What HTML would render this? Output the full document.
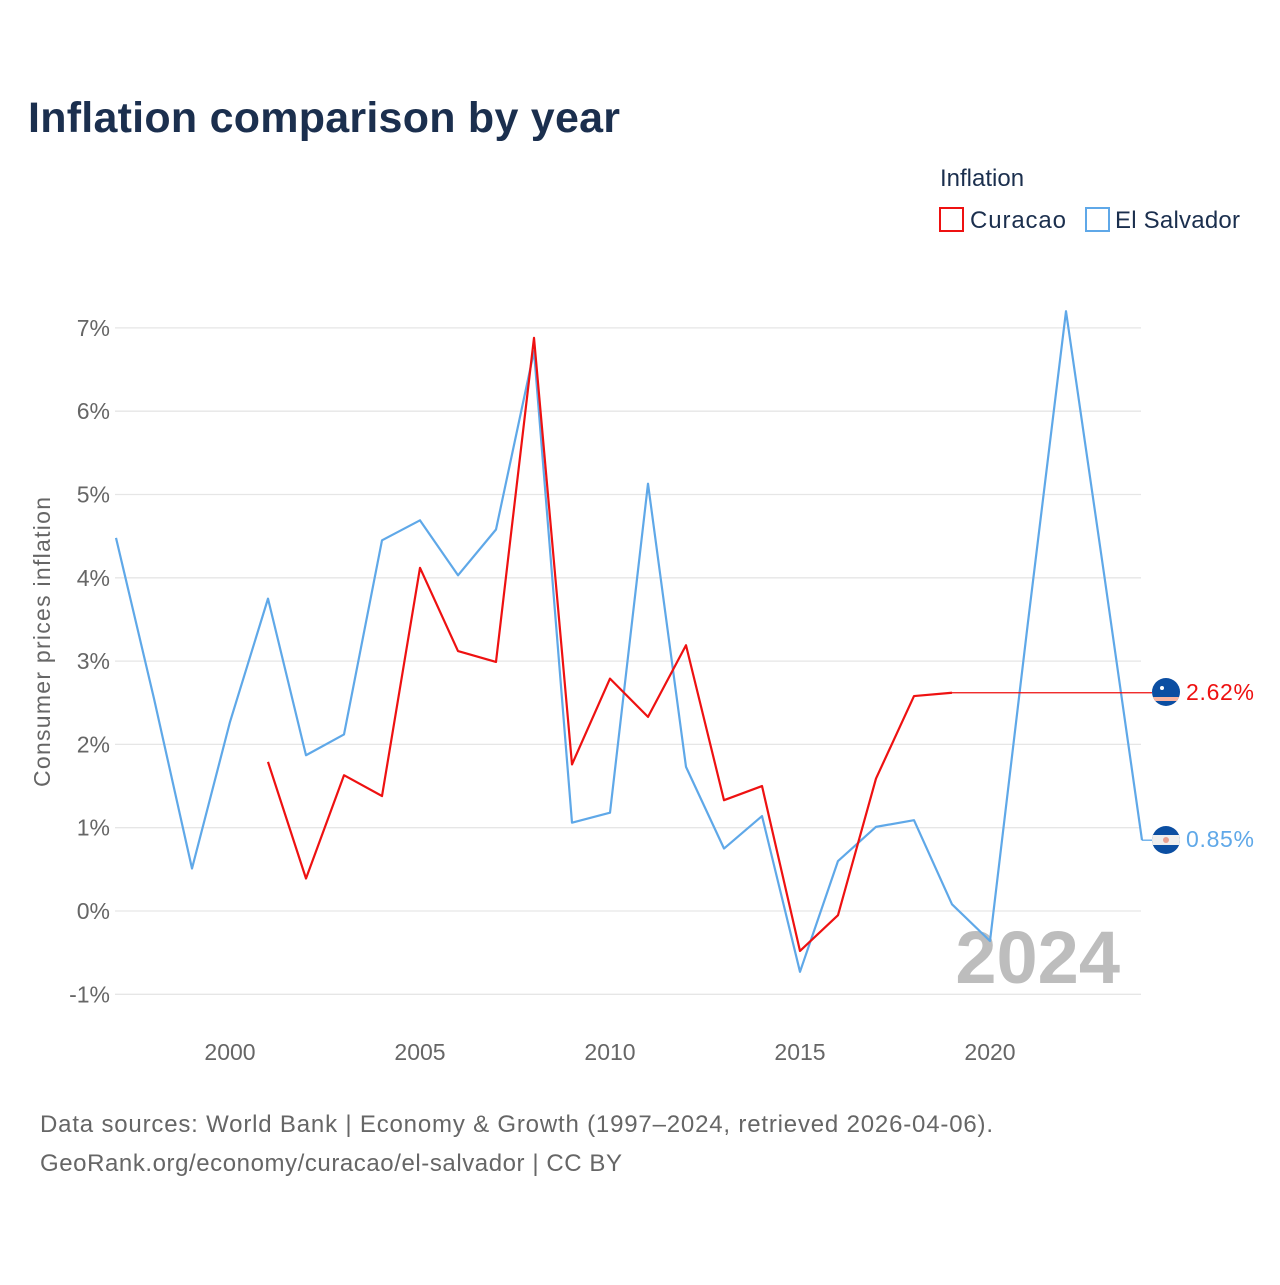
<!DOCTYPE html>
<html><head><meta charset="utf-8"><style>
body{margin:0;background:#fff;}
svg text{font-family:"Liberation Sans",sans-serif;}
</style></head><body>
<svg width="1280" height="1280" viewBox="0 0 1280 1280" xmlns="http://www.w3.org/2000/svg">
<text x="28" y="132" font-size="43" font-weight="bold" fill="#1b2f4e" textLength="592">Inflation comparison by year</text>
<text x="940" y="186" font-size="24" fill="#1b2f4e">Inflation</text>
<g><rect x="940" y="208" width="23" height="23" fill="none" stroke="#ee1111" stroke-width="2"/><text x="970" y="228" font-size="24" fill="#1b2f4e" textLength="96">Curacao</text></g>
<g><rect x="1086" y="208" width="23" height="23" fill="none" stroke="#5fa8e8" stroke-width="2"/><text x="1115" y="228" font-size="24" fill="#1b2f4e" textLength="125">El Salvador</text></g>
<text transform="translate(50,642) rotate(-90)" text-anchor="middle" font-size="23" fill="#666" textLength="290">Consumer prices inflation</text>
<g id="grid"></g>
<g id="yticks"></g>
<g id="xticks"></g>
<text x="1120" y="983" text-anchor="end" font-size="74" font-weight="bold" fill="#bdbdbd">2024</text>
<g id="series"></g>
<g><clipPath id="c1"><circle cx="1166" cy="692" r="14"/></clipPath><g clip-path="url(#c1)"><rect x="1150" y="676" width="32" height="32" fill="#0b4ea2"/><rect x="1150" y="697" width="32" height="4" fill="#f9b4a0"/><circle cx="1162" cy="688" r="2" fill="#fff"/></g></g>
<g><clipPath id="c2"><circle cx="1166" cy="840" r="14"/></clipPath><g clip-path="url(#c2)"><rect x="1150" y="824" width="32" height="32" fill="#0b4ea2"/><rect x="1150" y="835" width="32" height="10" fill="#eee"/><circle cx="1166" cy="840" r="3" fill="#e8a090"/></g></g>
<text x="1186" y="700" font-size="23" fill="#ee1111" textLength="68">2.62%</text>
<text x="1186" y="847" font-size="23" fill="#5fa8e8" textLength="68">0.85%</text>
<text x="40" y="1132" font-size="24" fill="#666" textLength="953">Data sources: World Bank | Economy &amp; Growth (1997–2024, retrieved 2026-04-06).</text>
<text x="40" y="1171" font-size="24" fill="#666" textLength="582">GeoRank.org/economy/curacao/el-salvador | CC BY</text>
</svg>
<script>
const yTicks=[-1,0,1,2,3,4,5,6,7];
const xTicks=[2000,2005,2010,2015,2020];
const elsYears=[1997,1998,1999,2000,2001,2002,2003,2004,2005,2006,2007,2008,2009,2010,2011,2012,2013,2014,2015,2016,2017,2018,2019,2020,2021,2022,2023,2024];
const elsValues=[4.48,2.55,0.51,2.27,3.75,1.87,2.12,4.45,4.69,4.03,4.58,6.72,1.06,1.18,5.13,1.73,0.75,1.14,-0.73,0.60,1.01,1.09,0.08,-0.36,3.47,7.20,4.05,0.85];
const curYears=[2001,2002,2003,2004,2005,2006,2007,2008,2009,2010,2011,2012,2013,2014,2015,2016,2017,2018,2019];
const curValues=[1.79,0.39,1.63,1.38,4.12,3.12,2.99,6.88,1.76,2.79,2.33,3.19,1.33,1.50,-0.48,-0.05,1.59,2.58,2.62];
const X=y=>230+(y-2000)*38, Y=v=>911-v*83.3;
const NS="http://www.w3.org/2000/svg";
const mk=(t,a,p)=>{const e=document.createElementNS(NS,t);for(const k in a)e.setAttribute(k,a[k]);p.appendChild(e);return e;};
const grid=document.getElementById('grid'),yt=document.getElementById('yticks'),xt=document.getElementById('xticks'),ser=document.getElementById('series');
yTicks.forEach(v=>{
 const l=mk('line',{x1:115,x2:1141,y1:Y(v),y2:Y(v),stroke:'#e6e6e6','stroke-width':1.3},grid);
 
 
 const t=mk('text',{x:110,y:Y(v)+8,'text-anchor':'end','font-size':23,fill:'#666'},yt);
 t.textContent=v+'%';
 
 
});
xTicks.forEach(v=>{
 const t=mk('text',{x:X(v),y:1060,'text-anchor':'middle','font-size':23,fill:'#666'},xt);
 t.textContent=v;
 
 
});
function line(ys,vs,col,name){
 const d=ys.map((y,i)=>(i?'L':'M')+X(y)+','+Y(vs[i])).join(' ');
 const p=mk('path',{d:d,fill:'none',stroke:col,'stroke-width':2.2,'stroke-linejoin':'round'},ser);
 
 
}
line(elsYears,elsValues,'#5fa8e8','el-salvador-line');
line(curYears,curValues,'#ee1111','curacao-line');
const cl=curValues[curValues.length-1], el=elsValues[elsValues.length-1];
const h1=mk('line',{x1:X(curYears[curYears.length-1]),x2:1152,y1:Y(cl),y2:Y(cl),stroke:'#ee1111','stroke-width':1.3},ser);


const h2=mk('line',{x1:X(elsYears[elsYears.length-1]),x2:1152,y1:Y(el),y2:Y(el),stroke:'#5fa8e8','stroke-width':1.3},ser);


</script>
</body></html>
